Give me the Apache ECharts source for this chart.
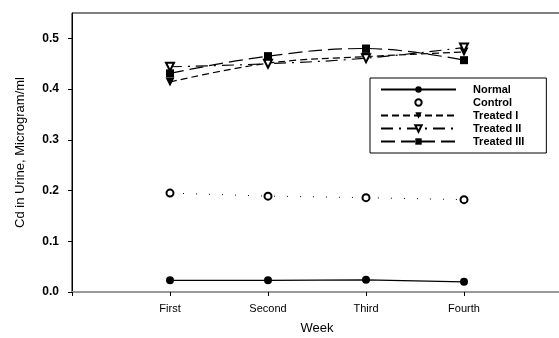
<!DOCTYPE html>
<html><head><meta charset="utf-8">
<script src="https://cdn.jsdelivr.net/npm/echarts@6/dist/echarts.min.js"></script>
<style>html,body{margin:0;padding:0;background:#fff}#c{width:559px;height:338px}</style>
</head><body><div id="c"></div>
<script>
var weeks = ['First', 'Second', 'Third', 'Fourth'];
var weekPos = [1, 2, 3, 4];
var normal = [0.023, 0.023, 0.024, 0.020];
var control = [0.195, 0.189, 0.186, 0.182];
var treated1 = [0.414, 0.451, 0.464, 0.473];
var treated2 = [0.444, 0.450, 0.461, 0.482];
var treated3 = [0.431, 0.465, 0.480, 0.457];
var yTicks = [0.0, 0.1, 0.2, 0.3, 0.4, 0.5];

function pairs(v){ return weekPos.map(function(x,i){ return [x, v[i]]; }); }
var font = 'Liberation Sans, Arial, sans-serif';
var chart = echarts.init(document.getElementById('c'));
chart.setOption({
  animation: false,
  grid: {left: 72, top: 13, width: 490, bottom: 46, show: true, borderColor: '#000', borderWidth: 1,
    outerBoundsMode: 'none', containLabel: false},
  xAxis: {
    type: 'value', min: 0, max: 5, interval: 1,
    name: 'Week', nameLocation: 'middle', nameGap: 30,
    nameTextStyle: {fontFamily: font, fontSize: 13, color: '#000'},
    axisLine: {show: true, onZero: false, lineStyle: {color: '#999', width: 2}},
    axisTick: {show: true, length: 4, lineStyle: {color: '#000'}},
    splitLine: {show: false},
    axisLabel: {fontFamily: font, fontSize: 11, color: '#000', margin: 11,
      formatter: function(v){ return (v >= 1 && v <= 4) ? weeks[v-1] : ''; }}
  },
  yAxis: {
    type: 'value', min: 0, max: 0.55, interval: 0.1,
    name: 'Cd in Urine, Microgram/ml', nameLocation: 'middle', nameGap: 45,
    nameTextStyle: {fontFamily: font, fontSize: 13, color: '#000'},
    axisLine: {show: true, lineStyle: {color: '#000', width: 1}},
    axisTick: {show: true, length: 4, lineStyle: {color: '#000'}},
    splitLine: {show: false},
    axisLabel: {fontFamily: font, fontSize: 12, color: '#000', margin: 13, fontWeight: 'bold', showMaxLabel: false,
      formatter: function(v){ return v > 0.51 ? '' : v.toFixed(1); }}
  },
  legend: {
    orient: 'vertical', left: 370, top: 78, width: 176,
    backgroundColor: '#fff', borderColor: '#000', borderWidth: 1,
    padding: [6, 22, 6, 10], itemWidth: 75, itemHeight: 8, itemGap: 2,
    textStyle: {fontFamily: font, fontSize: 11, color: '#000', fontWeight: 'bold', lineHeight: 10, padding: [0,0,0,12]},
    data: ['Normal', {name: 'Control', lineStyle: {width: 0, opacity: 0}}, 'Treated I', 'Treated II', 'Treated III']
  },
  series: [
    {name: 'Normal', type: 'line', data: pairs(normal), symbol: 'circle', symbolSize: 8,
      itemStyle: {color: '#000'}, lineStyle: {color: '#000', width: 1.2}},
    {name: 'Control', type: 'line', data: pairs(control), symbol: 'emptyCircle', symbolSize: 7,
      itemStyle: {color: '#000', borderWidth: 1},
      lineStyle: {color: '#000', width: 1, type: [1, 12]}},
    {name: 'Treated I', type: 'line', data: pairs(treated1), symbol: 'triangle', symbolRotate: 180, symbolSize: 9,
      smooth: 0.4, itemStyle: {color: '#000'}, lineStyle: {color: '#000', width: 1.2, type: [7, 4]}},
    {name: 'Treated II', type: 'line', data: pairs(treated2), symbol: 'emptyTriangle', symbolRotate: 180, symbolSize: 8,
      smooth: 0.4, itemStyle: {color: '#000', borderWidth: 1},
      lineStyle: {color: '#000', width: 1.2, type: [12, 6, 2, 6]}},
    {name: 'Treated III', type: 'line', data: pairs(treated3), symbol: 'rect', symbolSize: 8,
      smooth: 0.4, itemStyle: {color: '#000'}, lineStyle: {color: '#000', width: 1.2, type: [14, 6]}}
  ]
});
</script></body></html>
